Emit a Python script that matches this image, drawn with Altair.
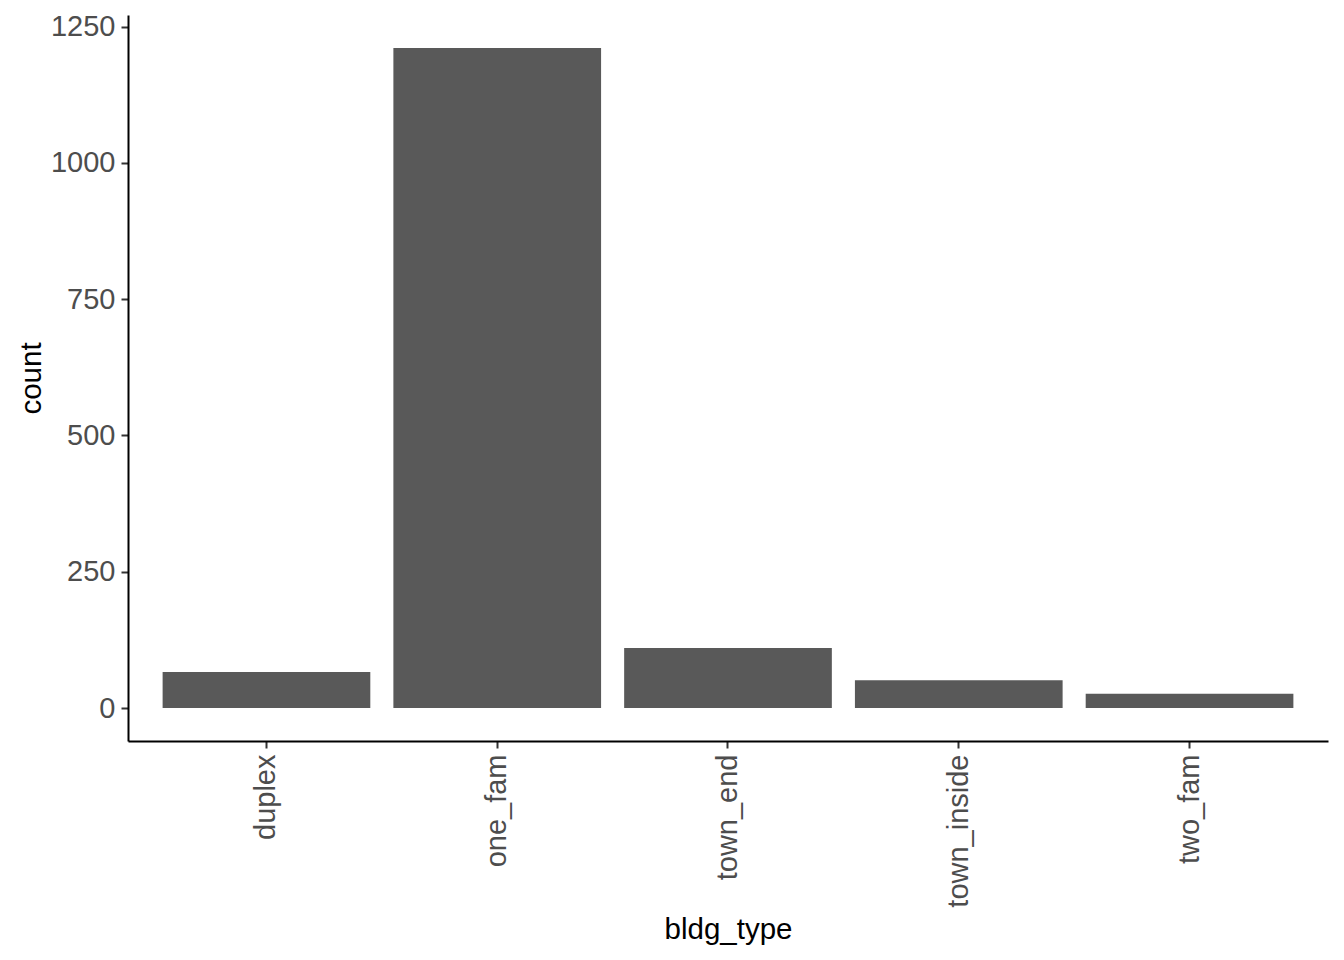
import altair as alt
import pandas as pd

categories = ["duplex", "one_fam", "town_end", "town_inside", "two_fam"]
counts = [66, 1211, 110, 51, 26]
y_ticks = [0, 250, 500, 750, 1000, 1250]

df = pd.DataFrame({"bldg_type": categories, "count": counts})

ymax = max(counts)
dom = [-0.05 * ymax, 1.05 * ymax]

FONT = "Liberation Sans"

chart = alt.Chart(df).mark_bar(color="#595959").encode(
    x=alt.X(
        "bldg_type:N",
        sort=categories,
        scale=alt.Scale(paddingInner=0.1, paddingOuter=0.15),
        axis=alt.Axis(
            title="bldg_type",
            labelAngle=-90,
            labelAlign="right",
            labelBaseline="middle",
            labelFont=FONT,
            labelFontSize=29,
            labelColor="#4d4d4d",
            labelPadding=6,
            tickSize=7,
            tickColor="#333333",
            tickWidth=2,
            domainColor="#000000",
            domainWidth=2,
            titleFont=FONT,
            titleFontSize=29.5,
            titleFontWeight="normal",
            titleColor="#000000",
            titleX=600,
            titleY=197,
            titleBaseline="alphabetic",
            titleAlign="center",
            grid=False,
        ),
    ),
    y=alt.Y(
        "count:Q",
        stack=None,
        scale=alt.Scale(domain=dom, nice=False, zero=False),
        axis=alt.Axis(
            title="count",
            values=y_ticks,
            format="d",
            labelFont=FONT,
            labelFontSize=29,
            labelColor="#4d4d4d",
            labelPadding=6,
            tickSize=7,
            tickColor="#333333",
            tickWidth=2,
            domainColor="#000000",
            domainWidth=2,
            titleFont=FONT,
            titleFontSize=29.5,
            titleFontWeight="normal",
            titleColor="#000000",
            titleAngle=-90,
            titleX=-88,
            titleY=363,
            titleBaseline="alphabetic",
            titleAlign="center",
            grid=False,
        ),
    ),
    y2=alt.datum(0),
).properties(
    width=1200,
    height=726,
    background="white",
    autosize=alt.AutoSizeParams(type="none"),
    padding={"left": 120, "top": 7, "right": 8, "bottom": 211},
).configure_view(stroke="transparent", strokeWidth=0)

chart.save("out.html", embed_options={"renderer": "svg", "actions": False})
